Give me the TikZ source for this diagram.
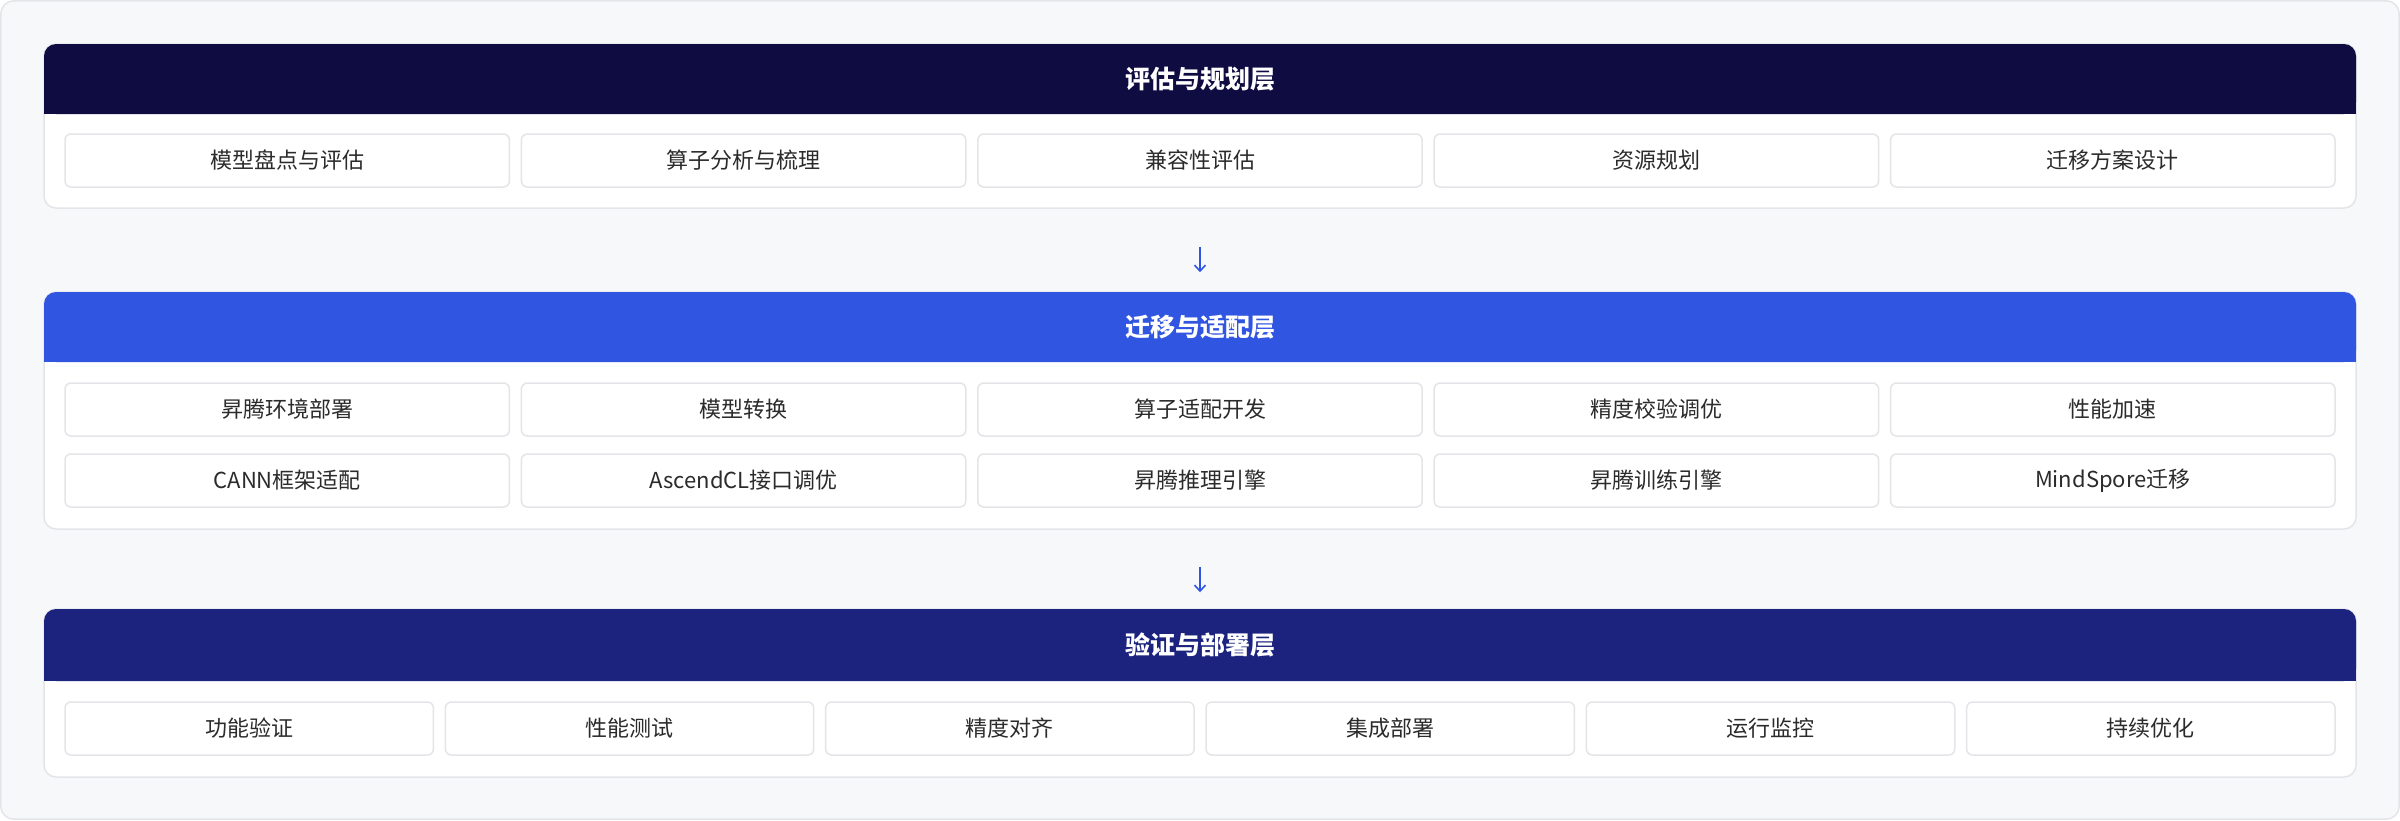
\documentclass[tikz,border=0pt]{standalone}
\usepackage{fontspec}
\setmainfont{Noto Sans CJK SC}
\usepackage{tikz}
\usetikzlibrary{arrows.meta}
\definecolor{pagebg}{HTML}{F7F8FA}
\definecolor{lineg}{HTML}{E3E5E9}
\definecolor{navyone}{HTML}{0F0C42}
\definecolor{bluetwo}{HTML}{3055E0}
\definecolor{indigothree}{HTML}{1B237E}
\definecolor{itemtext}{HTML}{2B2B2B}

\begin{document}
\begin{tikzpicture}[x=1pt, y=-1pt, card/.style={rectangle, draw=lineg, line width=0.75pt, fill=white, rounded corners=6pt, minimum width=1156pt, inner sep=0pt}, item/.style={rectangle, draw=lineg, line width=0.75pt, fill=white, rounded corners=3pt, minimum height=26.5pt, inner sep=0pt, font=\fontsize{11}{13}\selectfont, text=itemtext}, layertitle/.style={font=\fontsize{12.5}{15}\selectfont\bfseries, text=white}, flow/.style={draw=bluetwo, line width=0.8pt, -{Straight Barb[length=3pt,width=5.5pt]}}]
  \useasboundingbox (0,0) rectangle (1200,410);
  \fill[pagebg, draw=lineg, line width=0.75pt, rounded corners=6.5pt] (0.4,0.4) rectangle (1199.6,409.6);

  % layer cards
  \node[card, minimum height=82pt] (assesscard) at (600,63) {};
  \node[card, minimum height=118.5pt] (adaptcard) at (600,205.25) {};
  \node[card, minimum height=84pt] (verifycard) at (600,346.5) {};

  % headers
  \fill[navyone, rounded corners=6pt] (22,22) rectangle (1178,57);
  \fill[navyone] (22,40) rectangle (1178,57);
  \node[layertitle] (assesstitle) at (600,39.5) {评估与规划层};
  \fill[bluetwo, rounded corners=6pt] (22,146) rectangle (1178,181);
  \fill[bluetwo] (22,164) rectangle (1178,181);
  \node[layertitle] (adapttitle) at (600,163.5) {迁移与适配层};
  \fill[indigothree, rounded corners=6pt] (22,304.5) rectangle (1178,340.5);
  \fill[indigothree] (22,322) rectangle (1178,340.5);
  \node[layertitle] (verifytitle) at (600,322.5) {验证与部署层};

  % items
  \foreach \t [count=\i] in {模型盘点与评估,算子分析与梳理,兼容性评估,资源规划,迁移方案设计}
    \node[item, minimum width=222.2pt] (assess\i) at ({143.6+(\i-1)*228.2},80.25) {\t};
  \foreach \t [count=\i] in {昇腾环境部署,模型转换,算子适配开发,精度校验调优,性能加速}
    \node[item, minimum width=222.2pt] (adapt\i) at ({143.6+(\i-1)*228.2},204.75) {\t};
  \foreach \t [count=\i] in {CANN框架适配,AscendCL接口调优,昇腾推理引擎,昇腾训练引擎,MindSpore迁移}
    \node[item, minimum width=222.2pt] (adaptb\i) at ({143.6+(\i-1)*228.2},240.25) {\t};
  \foreach \t [count=\i] in {功能验证,性能测试,精度对齐,集成部署,运行监控,持续优化}
    \node[item, minimum width=184.2pt] (verify\i) at ({124.6+(\i-1)*190.17},364.25) {\t};

  % arrows
  \draw[flow, shorten <=19pt, shorten >=9.5pt] (assesscard.south) -- (adaptcard.north);
  \draw[flow, shorten <=18.5pt, shorten >=8pt] (adaptcard.south) -- (verifycard.north);
\end{tikzpicture}
\end{document}
